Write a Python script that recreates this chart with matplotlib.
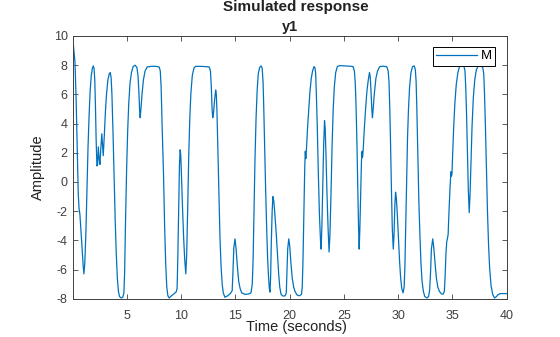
import matplotlib
matplotlib.use('Agg')
import matplotlib.pyplot as plt

plt.rcParams['font.family'] = ['Liberation Sans', 'DejaVu Sans']
plt.rcParams['axes.unicode_minus'] = False

# simulated response y1 (time in s, amplitude)
t = [
    0.1, 0.25, 0.35, 0.45, 0.55, 0.62, 0.7, 0.8, 0.9, 1.0, 1.07, 1.15, 1.25,
    1.35, 1.45, 1.55, 1.65, 1.75, 1.85, 1.93, 2.0, 2.07, 2.13, 2.2, 2.27,
    2.33, 2.4, 2.47, 2.55, 2.62, 2.72, 2.78, 2.85, 2.95, 3.05, 3.15, 3.28,
    3.4, 3.5, 3.58, 3.65, 3.75, 3.85, 3.95, 4.05, 4.15, 4.25, 4.35, 4.5,
    4.65, 4.75, 4.82, 4.9, 5.0, 5.1, 5.2, 5.32, 5.45, 5.6, 5.78, 5.95, 6.05,
    6.13, 6.2, 6.25, 6.32, 6.42, 6.55, 6.7, 6.9, 7.3, 7.7, 8.0, 8.1, 8.18,
    8.28, 8.4, 8.5, 8.6, 8.7, 8.8, 8.92, 9.05, 9.3, 9.55, 9.65, 9.72, 9.8,
    9.87, 9.93, 9.98, 10.05, 10.15, 10.25, 10.35, 10.45, 10.53, 10.62, 10.72,
    10.82, 10.92, 11.05, 11.2, 11.35, 11.8, 12.3, 12.6, 12.72, 12.8, 12.87,
    12.93, 13.0, 13.1, 13.2, 13.26, 13.32, 13.4, 13.5, 13.6, 13.7, 13.8,
    13.9, 14.05, 14.3, 14.55, 14.72, 14.8, 14.87, 14.98, 15.08, 15.2, 15.32,
    15.45, 15.6, 15.9, 16.2, 16.45, 16.57, 16.65, 16.73, 16.82, 16.92, 17.02,
    17.12, 17.25, 17.38, 17.48, 17.56, 17.62, 17.7, 17.8, 17.9, 17.98, 18.06,
    18.14, 18.2, 18.26, 18.32, 18.4, 18.47, 18.55, 18.65, 18.78, 18.9, 19.0,
    19.1, 19.22, 19.4, 19.6, 19.7, 19.76, 19.83, 19.93, 20.02, 20.12, 20.25,
    20.38, 20.5, 20.7, 20.9, 21.1, 21.17, 21.24, 21.32, 21.4, 21.45, 21.5,
    21.56, 21.65, 21.75, 21.87, 22.0, 22.12, 22.25, 22.33, 22.4, 22.47, 22.55,
    22.65, 22.75, 22.85, 22.91, 22.98, 23.06, 23.14, 23.22, 23.28, 23.36,
    23.45, 23.55, 23.64, 23.72, 23.82, 23.92, 24.02, 24.12, 24.25, 24.4, 24.6,
    25.2, 25.6, 25.85, 25.97, 26.05, 26.12, 26.2, 26.28, 26.35, 26.41, 26.47,
    26.55, 26.62, 26.68, 26.72, 26.78, 26.88, 27.0, 27.12, 27.25, 27.36,
    27.43, 27.5, 27.58, 27.63, 27.7, 27.8, 27.95, 28.1, 28.3, 28.6, 28.95,
    29.08, 29.16, 29.23, 29.3, 29.38, 29.46, 29.55, 29.62, 29.7, 29.76, 29.83,
    29.92, 30.02, 30.12, 30.22, 30.33, 30.45, 30.55, 30.62, 30.7, 30.78,
    30.86, 30.95, 31.05, 31.18, 31.32, 31.48, 31.58, 31.65, 31.72, 31.8, 31.9,
    32.0, 32.1, 32.2, 32.32, 32.45, 32.65, 32.8, 32.9, 32.98, 33.06, 33.18,
    33.28, 33.4, 33.52, 33.65, 33.8, 34.0, 34.15, 34.25, 34.32, 34.4, 34.47,
    34.53, 34.6, 34.68, 34.78, 34.86, 34.9, 34.95, 35.02, 35.12, 35.22, 35.35,
    35.5, 35.65, 35.8, 36.05, 36.15, 36.22, 36.3, 36.38, 36.46, 36.54, 36.62,
    36.7, 36.8, 36.92, 37.05, 37.2, 37.38, 37.6, 37.78, 37.88, 37.95, 38.03,
    38.12, 38.22, 38.32, 38.42, 38.55, 38.7, 38.87, 39.05, 39.2, 39.4, 39.7,
    40.0,
]
y1 = [
    9.4, 8.2, 5.8, 2.5, -0.8, -1.8, -2.2, -3.3, -4.5, -5.7, -6.3, -5.6, -3.6,
    -0.5, 2.4, 4.6, 6.3, 7.3, 7.8, 7.95, 7.8, 7.0, 5.3, 2.8, 1.1,
    1.2, 2.4, 1.6, 1.2, 2.2, 3.3, 2.6, 1.8, 3.2, 4.8, 6.0, 7.0,
    7.4, 7.5, 7.1, 6.0, 3.4, 0.3, -2.6, -4.9, -6.6, -7.5, -7.85, -7.95,
    -7.9, -7.6, -6.2, -2.8, 0.8, 3.5, 5.4, 6.8, 7.5, 7.9, 8.0, 7.85, 7.3,
    6.2, 4.9, 4.4, 5.0, 6.0, 7.0, 7.6, 7.88, 7.92, 7.92, 7.88, 7.6, 6.5,
    3.6, 0.5, -3.0, -5.6, -7.2, -7.8, -7.95, -7.85, -7.7, -7.55, -7.3, -5.0, -1.5,
    1.2, 2.2, 1.9, 0.5, -1.8, -3.8, -5.3, -6.3, -5.0, -2.0, 1.8,
    4.4, 6.1, 7.3, 7.8, 7.92, 7.92, 7.9, 7.88, 7.6, 6.5, 5.0,
    4.4, 4.7, 5.6, 6.3, 6.0, 4.8, 2.3, -1.0, -3.9, -5.8, -7.0,
    -7.6, -7.9, -7.8, -7.65, -7.45, -6.0, -4.5, -3.9, -4.6, -5.8, -6.8,
    -7.3, -7.6, -7.7, -7.68, -7.6, -7.0, -5.2, -2.0, 1.6, 4.4, 6.3,
    7.4, 7.85, 7.95, 7.8, 6.9, 5.3, 2.7, -0.5, -3.3, -5.2, -6.4,
    -7.3, -7.55, -6.5, -4.2, -2.0, -1.0, -1.3, -2.2, -3.6, -5.1, -6.3,
    -7.2, -7.7, -7.82, -7.8, -7.6, -6.2, -4.6, -3.9, -4.4, -5.5, -6.6,
    -7.2, -7.5, -7.75, -7.8, -7.7, -7.2, -5.3, -2.0, 1.0, 2.1, 1.6,
    2.3, 3.6, 4.7, 6.1, 7.1, 7.6, 7.9, 7.85, 7.5, 6.0, 3.9,
    0.6, -2.2, -4.0, -4.6, -3.0, -0.2, 2.5, 4.2, 3.7, 1.7,
    -0.9, -3.2, -4.8, -3.6, -0.7, 2.6, 5.0, 6.5, 7.5, 7.9, 7.97,
    7.95, 7.93, 7.9, 7.6, 6.8, 5.3, 2.8, -0.5, -3.0, -4.6, -3.3,
    -0.8, 1.4, 2.1, 1.7, 2.2, 3.6, 5.0, 6.2, 7.0, 7.5,
    7.2, 6.2, 4.9, 4.4, 5.0, 6.0, 7.1, 7.6, 7.9, 7.93, 7.9,
    7.6, 6.8, 5.0, 2.6, -0.5, -3.2, -4.6, -3.6, -1.5, -0.7, -1.1,
    -2.2, -3.8, -5.3, -6.5, -7.3, -7.6, -7.2, -5.8, -2.8, 0.2,
    3.0, 5.0, 6.5, 7.5, 7.9, 7.95, 7.7, 6.9, 5.0, 2.3, -1.2,
    -3.6, -5.6, -6.8, -7.5, -7.85, -7.95, -7.85, -7.4, -6.2, -4.6, -3.9,
    -4.5, -5.6, -6.6, -7.2, -7.5, -7.68, -7.68, -7.5, -6.5, -4.9, -4.1,
    -3.9, -3.6, -2.0, -0.3, 0.7, 0.4, 0.5, 2.0, 3.9, 5.4, 6.7,
    7.5, 7.9, 7.97, 7.95, 7.6, 6.5, 4.5, 2.0, -0.6, -2.1, -0.8,
    1.3, 3.8, 5.8, 7.0, 7.7, 7.95, 7.95, 7.85, 7.4, 6.0, 3.9,
    1.0, -2.0, -4.3, -5.9, -7.1, -7.7, -7.95, -7.85, -7.72, -7.65, -7.65,
    -7.65,
]

x_ticks = [5, 10, 15, 20, 25, 30, 35, 40]
y_ticks = [-8, -6, -4, -2, 0, 2, 4, 6, 8, 10]

axis_gray = '#404040'

fig = plt.figure(figsize=(5.6, 3.37), dpi=100)
ax = fig.add_axes([0.131, 0.1136, 0.774, 0.7796])

ax.plot(t, y1, color='#0072BD', lw=0.9, label='M')

ax.set_xlim(0.1, 40)
ax.set_ylim(-8, 10)
ax.set_xticks(x_ticks)
ax.set_yticks(y_ticks)
ax.tick_params(direction='in', length=3.5, width=0.6, top=True, right=True,
               labelsize=9, colors=axis_gray, pad=4)
ax.tick_params(axis='x', pad=8)
for s in ax.spines.values():
    s.set_color(axis_gray)
    s.set_linewidth(0.7)

ax.set_xlabel('Time (seconds)', fontsize=10.5, color='#222222')
ax.xaxis.set_label_coords(0.514, -0.107)
ax.xaxis.label.set_verticalalignment('center')
ax.set_ylabel('Amplitude', fontsize=10.5, color='#222222')
ax.yaxis.set_label_coords(-0.0815, 0.5)
ax.yaxis.label.set_verticalalignment('center')

ax.set_title('y1', fontsize=10.5, fontweight='bold', color='#222222',
             y=1.034, pad=0, va='center')
fig.suptitle('Simulated response', x=0.529, y=0.978, va='center',
             fontsize=11, fontweight='bold', color='#222222')

leg = ax.legend(loc='upper right', bbox_to_anchor=(0.973, 0.959),
                borderaxespad=0, fontsize=9.5, handlelength=3.1,
                handletextpad=0.3, borderpad=0.25, fancybox=False,
                framealpha=1, edgecolor='black')
leg.get_frame().set_linewidth(0.7)

fig.savefig('out.png', dpi=100)
